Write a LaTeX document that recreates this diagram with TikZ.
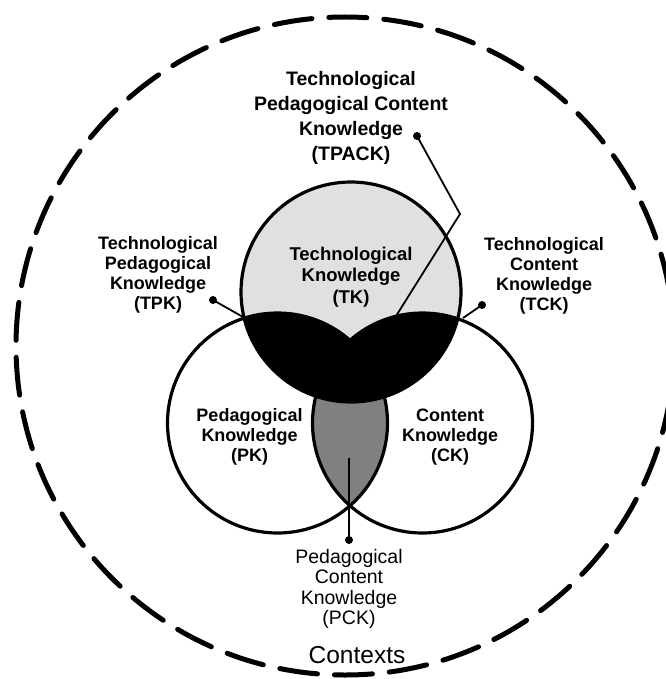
\documentclass[tikz,border=0pt]{standalone}
\usepackage{fontspec}
\setmainfont{Liberation Sans}
\begin{document}
\begin{tikzpicture}[x=1pt,y=-1pt,
  ring/.style={line width=3.2pt},
  lead/.style={line width=1.8pt},
  dotnode/.style={circle,fill=black,inner sep=0pt,minimum size=8pt},
  lbl/.style={align=center,inner sep=0pt,font=\bfseries\fontsize{18}{20}\selectfont},
  plbl/.style={align=center,inner sep=0pt,font=\fontsize{19.5}{20.5}\selectfont},
  ]
\useasboundingbox (0,0) rectangle (665,679);
\coordinate (tkc) at (351,292);
\coordinate (pkc) at (277.5,423);
\coordinate (ckc) at (422.5,423);
% fills
\fill[black!12] (tkc) circle[radius=110pt];
\begin{scope}
  \clip (pkc) circle[radius=110pt];
  \fill[black!50] (ckc) circle[radius=110pt];
\end{scope}
\begin{scope}
  \clip (tkc) circle[radius=110pt];
  \fill[black] (pkc) circle[radius=110pt] (ckc) circle[radius=110pt];
\end{scope}
% outlines
\draw[ring] (tkc) circle[radius=110pt];
\draw[ring] (pkc) circle[radius=110pt];
\draw[ring] (ckc) circle[radius=110pt];
% outer context
\draw[line width=5pt,dash pattern=on 38pt off 17pt,line cap=round] (345,346) circle[radius=329pt];
% leader points
\node[dotnode] (tpackdot) at (417,136) {};
\coordinate (tpackkink) at (460,214);
\coordinate (tpackend) at (381,340);
\node[dotnode] (tpkdot) at (213,300) {};
\coordinate (tpkj) at (243,317);
\node[dotnode] (tckdot) at (482,305) {};
\coordinate (tckj) at (463,318);
\node[dotnode] (pckdot) at (349,540) {};
\coordinate (pckend) at (349,458);
\draw[lead] (tpackdot.center) -- (tpackkink) -- (tpackend);
\draw[lead] (tpkdot.center) -- (tpkj);
\draw[lead] (tckdot.center) -- (tckj);
\draw[lead] (pckdot.center) -- (pckend);
% labels
\node[lbl,font=\bfseries\fontsize{19.5}{25}\selectfont] (tpack) at (351,118)
  {Technological\\Pedagogical Content\\Knowledge\\(TPACK)};
\node[lbl] (tpk) at (158,275) {Technological\\Pedagogical\\Knowledge\\(TPK)};
\node[lbl] (tck) at (544,276) {Technological\\Content\\Knowledge\\(TCK)};
\node[lbl,font=\bfseries\fontsize{18.5}{21.5}\selectfont] (tk) at (351,277) {Technological\\Knowledge\\(TK)};
\node[lbl] (pk) at (249.5,437) {Pedagogical\\Knowledge\\(PK)};
\node[lbl] (ck) at (450,437) {Content\\Knowledge\\(CK)};
\node[plbl] (pck) at (349,589) {Pedagogical\\Content\\Knowledge\\(PCK)};
\node[inner sep=0pt,font=\fontsize{24.5}{26}\selectfont] (ctx) at (357,655) {Contexts};
\end{tikzpicture}
\end{document}
